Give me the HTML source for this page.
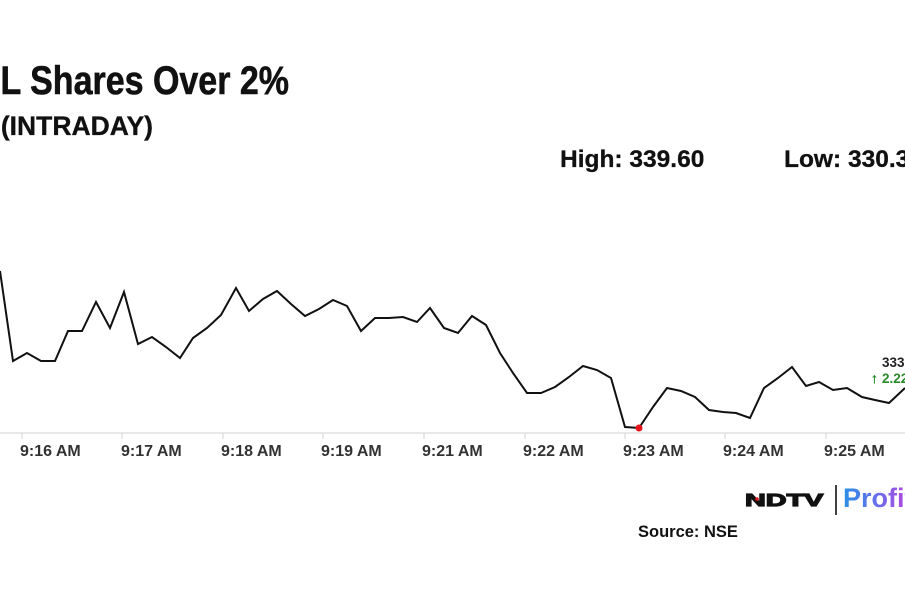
<!DOCTYPE html>
<html>
<head>
<meta charset="utf-8">
<style>
html,body{margin:0;padding:0;background:#fff;}
body{width:905px;height:613px;overflow:hidden;position:relative;}
svg{position:absolute;left:0;top:0;}
</style>
</head>
<body>
<svg width="905" height="613" viewBox="0 0 905 613" xmlns="http://www.w3.org/2000/svg">
  <defs>
    <linearGradient id="pg" x1="0" y1="0" x2="1" y2="0">
      <stop offset="0" stop-color="#2a8fe6"/>
      <stop offset="0.5" stop-color="#6a6ee8"/>
      <stop offset="1" stop-color="#c23fe0"/>
    </linearGradient>
  </defs>
  <rect width="905" height="613" fill="#fff"/>

  <!-- Title -->
  <text x="289" y="94" text-anchor="end" font-family="Liberation Sans, Arial, sans-serif" font-weight="bold" font-size="40" fill="#111" stroke="#111" stroke-width="0.6" transform="translate(289 0) scale(0.85 1) translate(-289 0)">L Shares Over 2%</text>
  <text x="153" y="135" text-anchor="end" font-family="Liberation Sans, Arial, sans-serif" font-weight="bold" font-size="26.5" fill="#111" stroke="#111" stroke-width="0.3">(INTRADAY)</text>

  <!-- High / Low -->
  <text x="560" y="167" font-family="Liberation Sans, Arial, sans-serif" font-weight="bold" font-size="24.5" fill="#111" stroke="#111" stroke-width="0.3">High: 339.60</text>
  <text x="784" y="167" font-family="Liberation Sans, Arial, sans-serif" font-weight="bold" font-size="24.5" fill="#111" stroke="#111" stroke-width="0.3">Low: 330.30</text>

  <!-- Axis -->
  <line x1="0" y1="433" x2="905" y2="433" stroke="#d9d9d9" stroke-width="1.2"/>
  <g stroke="#d9d9d9" stroke-width="1.2">
    <line x1="22" y1="433" x2="22" y2="439"/>
    <line x1="122" y1="433" x2="122" y2="439"/>
    <line x1="223" y1="433" x2="223" y2="439"/>
    <line x1="323" y1="433" x2="323" y2="439"/>
    <line x1="424" y1="433" x2="424" y2="439"/>
    <line x1="525" y1="433" x2="525" y2="439"/>
    <line x1="625" y1="433" x2="625" y2="439"/>
    <line x1="725" y1="433" x2="725" y2="439"/>
    <line x1="826" y1="433" x2="826" y2="439"/>
  </g>
  <g font-family="Liberation Sans, Arial, sans-serif" font-weight="bold" font-size="16" fill="#333">
    <text x="20" y="456">9:16 AM</text>
    <text x="121" y="456">9:17 AM</text>
    <text x="221" y="456">9:18 AM</text>
    <text x="321" y="456">9:19 AM</text>
    <text x="422" y="456">9:21 AM</text>
    <text x="523" y="456">9:22 AM</text>
    <text x="623" y="456">9:23 AM</text>
    <text x="723" y="456">9:24 AM</text>
    <text x="824" y="456">9:25 AM</text>
  </g>

  <!-- Series -->
  <polyline fill="none" stroke="#111" stroke-width="2" stroke-linejoin="miter"
    points="0,271 13,361 27,353 41,361 55,361 68,331 82,331 96,302 110,328 124,292 138,344 152,337 166,347 180,358 193,338 207,328 221,315 236,288 249,311 263,299 277,291 291,304 305,316 319,309 333,300 347,306 361,331 375,318 389,318 403,317 417,322 430,308 444,328 458,333 472,316 486,325 500,353 513,373 527,393 541,393 555,387 569,377 583,366 597,370 611,378 625,427 639,428 653,407 667,388 681,391 695,397 709,410 723,412 736,413 750,418 764,388 778,378 792,367 806,386 819,382 833,390 847,388 862,397 875,400 889,403 905,388"/>
  <circle cx="639" cy="428" r="3.5" fill="#e8141a"/>

  <!-- Last value annotation -->
  <text x="882" y="367" font-family="Liberation Sans, Arial, sans-serif" font-weight="bold" font-size="13.5" fill="#222">333.80</text>
  <text x="871" y="383" font-family="Liberation Sans, Arial, sans-serif" font-weight="bold" font-size="14" fill="#2a8a2a" stroke="#2a8a2a" stroke-width="0.4">↑</text>
  <text x="882" y="383" font-family="Liberation Sans, Arial, sans-serif" font-weight="bold" font-size="13.5" fill="#2a8a2a">2.22%</text>

  <!-- Logo -->
  <text x="745" y="506" font-family="Liberation Sans, Arial, sans-serif" font-weight="900" font-size="18" fill="#111" stroke="#111" stroke-width="1.2" transform="translate(745 0) scale(1.6 1) translate(-745 0)">NDTV</text>
  <circle cx="757" cy="499" r="1.8" fill="#e8141a"/>
  <line x1="836" y1="485" x2="836" y2="515" stroke="#111" stroke-width="1.6"/>
  <text x="843" y="507" font-family="Liberation Sans, Arial, sans-serif" font-weight="bold" font-size="27" fill="url(#pg)">Profit</text>

  <!-- Source -->
  <text x="638" y="537" font-family="Liberation Sans, Arial, sans-serif" font-weight="bold" font-size="16.5" fill="#111">Source: NSE</text>
</svg>
</body>
</html>
